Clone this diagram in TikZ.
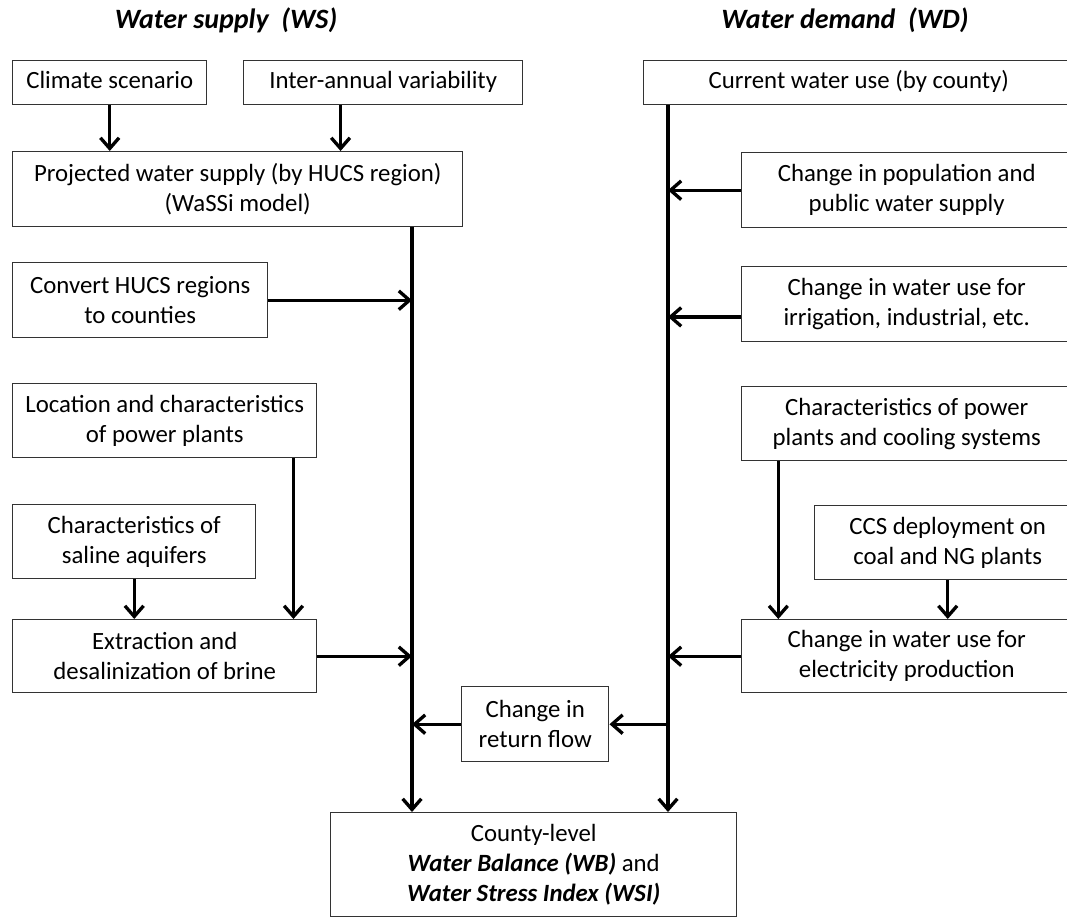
\documentclass[tikz,border=0pt]{standalone}
\usepackage{fontspec}
\setmainfont{Carlito}
\usetikzlibrary{arrows.meta,positioning}

\begin{document}
\begin{tikzpicture}[x=0.75pt,y=-0.75pt,>={Straight Barb[length=8pt,width=14pt]},
	block/.style={rectangle,draw=black!80,line width=1.1pt,anchor=north west,inner sep=0pt,align=center,font=\fontsize{18.6}{22.5}\selectfont},
	boxsize/.style 2 args={minimum width=#1*0.75pt,minimum height=#2*0.75pt},
	heading/.style={font=\fontsize{21}{25}\selectfont\bfseries\itshape},
	flow/.style={->,line width=2.5pt}]
	\useasboundingbox (0,0) rectangle (1067,918);

	% titles
	\node[heading] (ws title) at (226,20) {Water supply\ \ (WS)};
	\node[heading] (wd title) at (845,20) {Water demand\ \ (WD)};

	% water supply side
	\node[block,boxsize={194}{44}] (climate) at (12,60) {Climate scenario\strut};
	\node[block,boxsize={279}{44}] (interannual) at (243,60) {Inter-annual variability\strut};
	\node[block,boxsize={450}{75}] (projected) at (12,151) {Projected water supply (by HUCS region)\\(WaSSi model)};
	\node[block,boxsize={255}{75}] (convert) at (12,262) {Convert HUCS regions\\to counties};
	\node[block,boxsize={304}{74}] (location) at (12,383) {Location and characteristics\\of power plants};
	\node[block,boxsize={243}{74}] (saline) at (12,504) {Characteristics of\\saline aquifers};
	\node[block,boxsize={304}{73}] (extraction) at (12,619) {Extraction and\\desalinization of brine};

	% water demand side
	\node[block,boxsize={430}{44}] (current) at (643,60) {Current water use (by county)\strut};
	\node[block,boxsize={330}{75}] (population) at (741,152) {Change in population and\\public water supply};
	\node[block,boxsize={330}{75}] (irrigation) at (741,266) {Change in water use for\\irrigation, industrial, etc.};
	\node[block,boxsize={330}{74}] (powerchar) at (741,386) {Characteristics of power\\plants and cooling systems};
	\node[block,boxsize={266}{74}] (ccs) at (814,505) {CCS deployment on\\coal and NG plants};
	\node[block,boxsize={330}{73}] (electricity) at (741,619) {Change in water use for\\electricity production};

	% middle
	\node[block,boxsize={147}{75}] (returnflow) at (461,686) {Change in\\return flow};
	\node[block,boxsize={406}{104}] (county) at (330,812) {County-level\\\textbf{\textit{Water Balance (WB)}} and\\\textbf{\textit{Water Stress Index (WSI)}}};

	\coordinate (ws) at (412,812);
	\coordinate (wd) at (668,812);

	% main lines
	\draw[flow] (ws |- projected.south) -- (ws);
	\draw[flow] (wd |- current.south) -- (wd);

	\draw[flow] (climate.south) -- (climate.south |- projected.north);
	\draw[flow] ([xshift=-32pt]interannual.south) -- ([xshift=-32pt]interannual.south |- projected.north);
	\draw[flow] (convert.east) -- (convert.east -| ws);
	\draw[flow] ([xshift=-18pt]location.south east) -- ([xshift=-18pt]location.south east |- extraction.north);
	\draw[flow] (saline.south) -- (saline.south |- extraction.north);
	\draw[flow] (extraction.east) -- (extraction.east -| ws);
	\draw[flow] (returnflow.west) -- (returnflow.west -| ws);
	\draw[flow] (returnflow.east -| wd) -- (returnflow.east);

	\draw[flow] (population.west) -- (population.west -| wd);
	\draw[flow] ([yshift=-9.5pt]irrigation.west) -- ([yshift=-9.5pt]irrigation.west -| wd);
	\draw[flow] ([xshift=28pt]powerchar.south west) -- ([xshift=28pt]powerchar.south west |- electricity.north);
	\draw[flow] (ccs.south) -- (ccs.south |- electricity.north);
	\draw[flow] (electricity.west) -- (electricity.west -| wd);
\end{tikzpicture}
\end{document}
